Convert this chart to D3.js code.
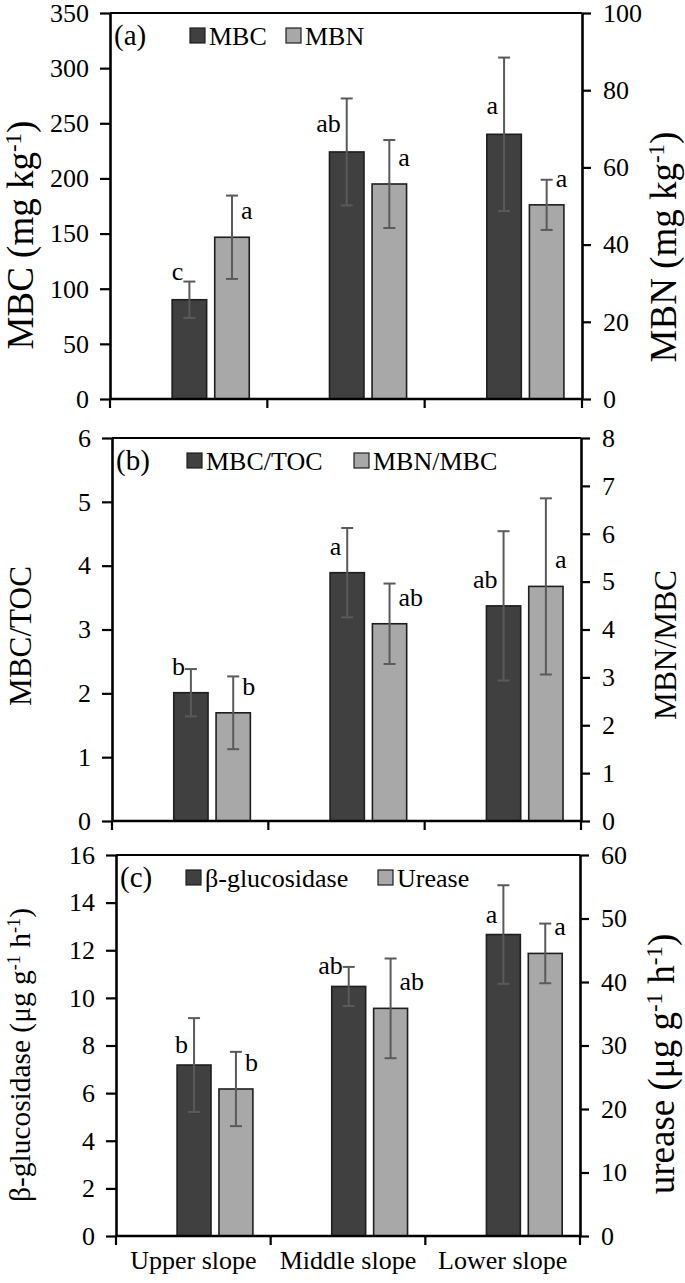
<!DOCTYPE html>
<html>
<head>
<meta charset="utf-8">
<script src="https://cdn.jsdelivr.net/npm/d3@7"></script>
<style>
body{margin:0;background:#fff}
</style>
</head>
<body>
<script>
// categories (x)
const categories=["Upper slope","Middle slope","Lower slope"];

// panel (a)
const mbcValues=[90,224,240];
const mbcErr=[16.5,48.5,69.6];
const mbcLetters=["c","ab","a"];
const mbnValues=[41.9,55.7,50.3];
const mbnErr=[10.8,11.4,6.5];
const mbnLetters=["a","a","a"];
const aLeftTicks=[0,50,100,150,200,250,300,350];
const aRightTicks=[0,20,40,60,80,100];

// panel (b)
const mbcTocValues=[2.01,3.89,3.37];
const mbcTocErr=[0.37,0.70,1.17];
const mbcTocLetters=["b","a","ab"];
const mbnMbcValues=[2.26,4.12,4.90];
const mbnMbcErr=[0.76,0.84,1.84];
const mbnMbcLetters=["b","ab","a"];
const bLeftTicks=[0,1,2,3,4,5,6];
const bRightTicks=[0,1,2,3,4,5,6,7,8];

// panel (c)
const glucValues=[7.18,10.48,12.66];
const glucErr=[1.97,0.82,2.07];
const glucLetters=["b","ab","a"];
const ureValues=[23.15,35.85,44.5];
const ureErr=[5.85,7.85,4.7];
const ureLetters=["b","ab","a"];
const cLeftTicks=[0,2,4,6,8,10,12,14,16];
const cRightTicks=[0,10,20,30,40,50,60];

const darkFill="#404040", lightFill="#a8a8a8";
const serif="'Liberation Serif', 'Times New Roman', serif";

const svg=d3.select("body").append("svg").attr("width",685).attr("height",1283)
  .style("font-family",serif);

const panels=[
  {tag:"(a)",top:13,bottom:399,left:110,right:582,leftTicks:aLeftTicks,rightTicks:aRightTicks,
   series:[{name:"MBC",values:mbcValues,err:mbcErr,letters:mbcLetters,fill:darkFill},
           {name:"MBN",values:mbnValues,err:mbnErr,letters:mbnLetters,fill:lightFill}],
   legendX:[190,286],darkOff:20,
   leftTitle:{parts:[["MBC (mg kg",0],["-1",1],[")",0]],x:33,cy:235,len:256},
   rightTitle:{parts:[["MBN (mg kg",0],["-1",1],[")",0]],x:676,cy:247,len:231},
   xLabels:false},
  {tag:"(b)",top:438,bottom:821,left:112,right:581,leftTicks:bLeftTicks,rightTicks:bRightTicks,
   series:[{name:"MBC/TOC",values:mbcTocValues,err:mbcTocErr,letters:mbcTocLetters,fill:darkFill},
           {name:"MBN/MBC",values:mbnMbcValues,err:mbnMbcErr,letters:mbnMbcLetters,fill:lightFill}],
   legendX:[187,354],darkOff:18,
   leftTitle:{parts:[["MBC/TOC",0]],x:31,cy:636,len:140},
   rightTitle:{parts:[["MBN/MBC",0]],x:676,cy:645,len:150},
   xLabels:false},
  {tag:"(c)",top:855,bottom:1236,left:116,right:580,leftTicks:cLeftTicks,rightTicks:cRightTicks,
   series:[{name:"β-glucosidase",values:glucValues,err:glucErr,letters:glucLetters,fill:darkFill},
           {name:"Urease",values:ureValues,err:ureErr,letters:ureLetters,fill:lightFill}],
   legendX:[186,378],darkOff:12,
   leftTitle:{parts:[["β-glucosidase (μg g",0],["-1",1],[" h",0],["-1",1],[")",0]],x:30,cy:1055,len:294},
   rightTitle:{parts:[["urease (μg g",0],["-1",1],[" h",0],["-1",1],[")",0]],x:674,cy:1064,len:278},
   xLabels:true}
];

function addTitle(g,t){
  const txt=g.append("text")
    .attr("transform","translate("+t.x+","+t.cy+") rotate(-90)")
    .attr("text-anchor","middle")
    .attr("font-size",30);
  t.parts.forEach(p=>{
    const ts=txt.append("tspan").text(p[0]);
    if(p[1]) ts.attr("font-size","62%").attr("baseline-shift","super");
  });
  const w=txt.node().getComputedTextLength();
  txt.attr("font-size",Math.min(30*t.len/w,37));
}

function drawPanel(p){
  const g=svg.append("g");
  const x=d3.scaleBand().domain(categories).range([p.left,p.right]);
  const inner=d3.scaleBand().domain([0,1])
    .range([x.bandwidth()*0.395,x.bandwidth()*0.885]).paddingInner(0.19);
  const yL=d3.scaleLinear().domain([0,d3.max(p.leftTicks)]).range([p.bottom,p.top]);
  const yR=d3.scaleLinear().domain([0,d3.max(p.rightTicks)]).range([p.bottom,p.top]);
  const ys=[yL,yR];

  // top frame line
  g.append("line").attr("x1",p.left).attr("x2",p.right).attr("y1",p.top).attr("y2",p.top)
    .attr("stroke","#000").attr("stroke-width",2);

  p.series.forEach((s,si)=>{
    const y=ys[si];
    const rows=categories.map((c,i)=>({c:c,v:s.values[i],e:s.err[i],l:s.letters[i]}));
    const bw=inner.bandwidth();
    const bx=d=>x(d.c)+inner(si);
    const cx=d=>bx(d)+bw/2;
    g.append("g").selectAll("rect").data(rows).join("rect")
      .attr("x",bx).attr("width",bw)
      .attr("y",d=>y(d.v)).attr("height",d=>p.bottom-y(d.v))
      .attr("fill",s.fill).attr("stroke","#1e1e1e").attr("stroke-width",1.6);
    const eb=g.append("g").attr("stroke","#5a5a5a").attr("stroke-width",2);
    eb.selectAll("line.v").data(rows).join("line").attr("class","v")
      .attr("x1",cx).attr("x2",cx).attr("y1",d=>y(d.v+d.e)).attr("y2",d=>y(d.v-d.e));
    eb.selectAll("line.t").data(rows).join("line").attr("class","t")
      .attr("x1",d=>cx(d)-6).attr("x2",d=>cx(d)+6).attr("y1",d=>y(d.v+d.e)).attr("y2",d=>y(d.v+d.e));
    eb.selectAll("line.b").data(rows).join("line").attr("class","b")
      .attr("x1",d=>cx(d)-6).attr("x2",d=>cx(d)+6).attr("y1",d=>y(d.v-d.e)).attr("y2",d=>y(d.v-d.e));
    g.append("g").selectAll("text").data(rows).join("text")
      .attr("font-size",26)
      .attr("text-anchor",si===0?"end":"start")
      .attr("x",d=>si===0?cx(d)-6:cx(d)+9)
      .attr("y",d=>y(d.v)-(si===0?p.darkOff:18))
      .text(d=>d.l);
  });

  // axes
  const fmt=d3.format("d");
  const axL=g.append("g").attr("transform","translate("+p.left+",0)")
    .call(d3.axisLeft(yL).tickValues(p.leftTicks).tickFormat(fmt).tickSize(10).tickSizeOuter(0).tickPadding(11));
  const axR=g.append("g").attr("transform","translate("+p.right+",0)")
    .call(d3.axisRight(yR).tickValues(p.rightTicks).tickFormat(fmt).tickSize(9).tickSizeOuter(0).tickPadding(12));
  [axL,axR].forEach(a=>{
    a.attr("font-family",null);
    a.select(".domain").attr("stroke","#000").attr("stroke-width",2.6);
    a.selectAll(".tick line").attr("stroke","#000").attr("stroke-width",2.2);
    a.selectAll(".tick text").attr("font-size",26).attr("fill","#000");
  });

  // x axis line and category boundary ticks
  g.append("line").attr("x1",p.left).attr("x2",p.right).attr("y1",p.bottom).attr("y2",p.bottom)
    .attr("stroke","#000").attr("stroke-width",2.6);
  const bounds=[p.left].concat(categories.map(c=>x(c)+x.bandwidth()));
  g.append("g").selectAll("line").data(bounds).join("line")
    .attr("x1",d=>d).attr("x2",d=>d).attr("y1",p.bottom).attr("y2",p.bottom+9)
    .attr("stroke","#000").attr("stroke-width",2.2);
  if(p.xLabels){
    const axB=g.append("g").attr("transform","translate(0,"+p.bottom+")")
      .call(d3.axisBottom(x).tickSize(0).tickPadding(15));
    axB.attr("font-family",null);
    axB.select(".domain").remove();
    axB.selectAll(".tick text").attr("font-size",26).attr("fill","#000");
  }

  // tag + legend
  g.append("text").attr("x",p.left+4).attr("y",p.top+32).attr("font-size",29).text(p.tag);
  const lg=g.append("g").selectAll("g").data(p.series).join("g")
    .attr("transform",(d,i)=>"translate("+p.legendX[i]+","+(p.top+15)+")");
  lg.append("rect").attr("width",15).attr("height",15)
    .attr("fill",d=>d.fill).attr("stroke","#1e1e1e").attr("stroke-width",1.2);
  lg.append("text").attr("x",19).attr("y",17).attr("font-size",26).text(d=>d.name);

  addTitle(g,p.leftTitle);
  addTitle(g,p.rightTitle);
}

panels.forEach(drawPanel);
</script>
</body>
</html>
